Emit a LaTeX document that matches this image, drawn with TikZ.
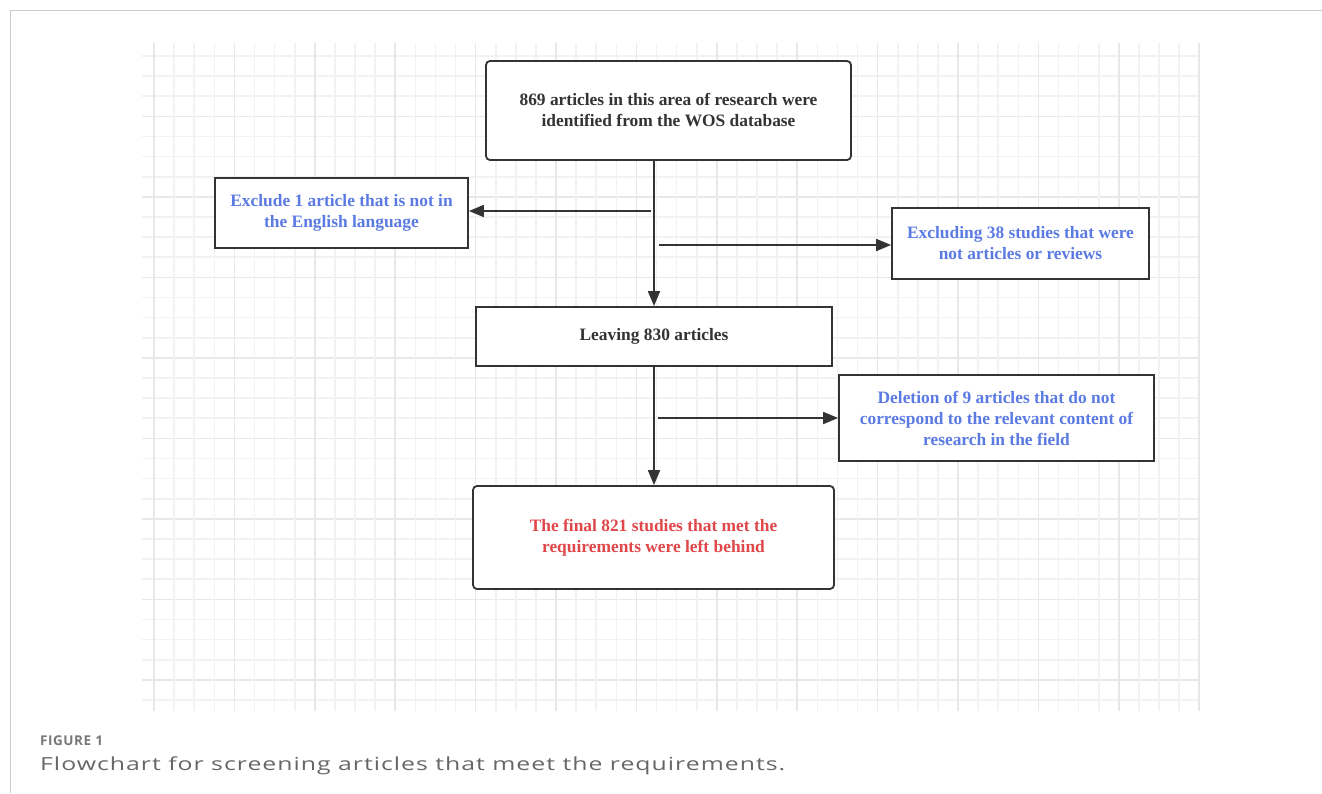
\documentclass[tikz,border=0pt]{standalone}
\usepackage{graphicx}
\usepackage{fontspec}
\setmainfont{Liberation Serif}
\newfontfamily\capfont[LetterSpace=4]{Open Sans}
\newfontfamily\labfont[LetterSpace=4]{Open Sans}
\usetikzlibrary{arrows.meta}
\definecolor{ink}{HTML}{333333}
\definecolor{bluetxt}{HTML}{5B7BE3}
\definecolor{redtxt}{HTML}{E0474A}
\definecolor{gridminor}{HTML}{F2F2F2}
\definecolor{gridmajor}{HTML}{E8E8E8}
\definecolor{framecol}{HTML}{CCCCCC}
\definecolor{capgray}{HTML}{787878}
\definecolor{captext}{HTML}{666666}
\tikzset{
  box/.style={draw=ink, line width=1.8pt, fill=white, inner sep=0pt, align=center,
              font=\bfseries\fontsize{17.4}{21}\selectfont, text=ink},
  roundbox/.style={box, rounded corners=4pt},
  bluebox/.style={box, text=bluetxt},
  flow/.style={draw=ink, line width=1.8pt, -{Triangle[length=15pt,width=12pt]}},
  minorline/.style={draw=gridminor, line width=1.6pt},
  majorline/.style={draw=gridmajor, line width=1.6pt}
}
\begin{document}
\begin{tikzpicture}[x=1pt,y=-1pt]
\useasboundingbox (0,0) rectangle (1322,793);
% frame
\draw[framecol, line width=1pt] (10,793) -- (10,10) -- (1322,10);
% grid
\foreach \k in {0,...,32}{
  \pgfmathsetmacro\yy{56+20.125*\k}
  \pgfmathtruncatemacro\m{mod(\k,4)}
  \ifnum\m=3 \draw[majorline] (142,\yy) -- (1200,\yy);
  \else \draw[minorline] (142,\yy) -- (1200,\yy); \fi
}
\foreach \k in {0,...,52}{
  \pgfmathsetmacro\xx{154+20.1*\k}
  \pgfmathtruncatemacro\m{mod(\k,4)}
  \ifnum\m=0 \draw[majorline] (\xx,43) -- (\xx,711);
  \else \draw[minorline] (\xx,43) -- (\xx,711); \fi
}
% nodes
\node[roundbox, minimum width=365pt, minimum height=99pt] (top) at (668.5,110.5)
  {869 articles in this area of research were\\identified from the WOS database};
\node[bluebox, minimum width=253pt, minimum height=70pt] (lbox) at (341.5,213)
  {Exclude 1 article that is not in\\the English language};
\node[bluebox, minimum width=257pt, minimum height=71pt] (rone) at (1020.5,243.5)
  {Excluding 38 studies that were\\not articles or reviews};
\node[box, minimum width=356pt, minimum height=59pt] (mid) at (654,336.5)
  {Leaving 830 articles};
\node[bluebox, minimum width=315pt, minimum height=86pt] (rtwo) at (996.5,418)
  {Deletion of 9 articles that do not\\correspond to the relevant content of\\research in the field};
\node[roundbox, text=redtxt, minimum width=361pt, minimum height=103pt] (final) at (653.5,537.5)
  {The final 821 studies that met the\\requirements were left behind};
% connectors
\coordinate (lstart) at (651,211);
\coordinate (rstartone) at (659,245);
\coordinate (rstarttwo) at (658,418);
\draw[flow] (mid.north |- top.south) -- (mid.north);
\draw[flow] (lstart) -- (lstart -| lbox.east);
\draw[flow] (rstartone) -- (rstartone -| rone.west);
\draw[flow] (mid.south) -- (mid.south |- final.north);
\draw[flow] (rstarttwo) -- (rstarttwo -| rtwo.west);
% caption
\node[anchor=base west, inner sep=0pt, text=capgray, font=\labfont\fontsize{13.5}{16}\selectfont\bfseries] (figlabel) at (40,745) {FIGURE 1};
\node[anchor=base west, inner sep=0pt, text=captext, font=\capfont\fontsize{18}{22}\selectfont] (figcaption) at (40,770) {\resizebox{745pt}{\height}{Flowchart for screening articles that meet the requirements.}};
\end{tikzpicture}
\end{document}
